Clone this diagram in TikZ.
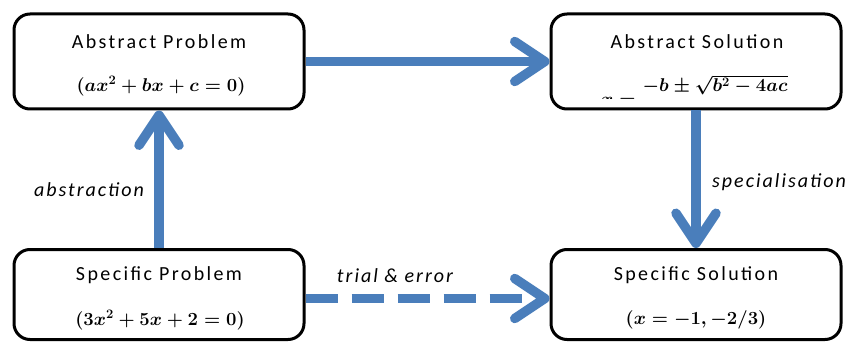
\documentclass[tikz,border=0pt]{standalone}
\usepackage{fix-cm}
\usepackage{fontspec}
\setmainfont{Carlito}
\usetikzlibrary{arrows.meta}
\definecolor{arrowblue}{RGB}{74,126,187}
\tikzset{
  box/.style={draw=black, line width=3pt, rounded corners=16pt, minimum width=290pt, inner sep=0pt},
  title/.style={font=\fontsize{20}{24}\selectfont\addfontfeatures{LetterSpace=12}, inner sep=0pt},
  formula/.style={font=\fontsize{18.5}{22}\selectfont\boldmath, inner sep=0pt},
  flow/.style={draw=arrowblue, line width=9.5pt, -{Straight Barb[length=30pt, width=40pt, round]}},
  dflow/.style={flow, dash pattern=on 32pt off 14pt},
  lab/.style={font=\fontsize{20}{24}\selectfont\itshape\addfontfeatures{LetterSpace=10}, inner sep=0pt},
}
\begin{document}
\begin{tikzpicture}[x=1pt,y=-1pt]
\useasboundingbox (0,0) rectangle (850,347);
% boxes
\node[box, minimum height=95pt] (ap) at (159,61.5) {};
\node[box, minimum height=95pt] (as) at (696,61.5) {};
\node[box, minimum height=90pt] (sp) at (159,294.5) {};
\node[box, minimum height=90pt] (ss) at (696,294.5) {};
% texts
\node[title] (apt) at (159,42) {Abstract Problem};
\node[formula] (apf) at (161,86) {$(ax^2+bx+c=0)$};
\node[title] (ast) at (697,42) {Abstract Solution};
\begin{scope}
  \clip (560,20) rectangle (840,99);
  \node[formula, anchor=north] (asf) at (695,75) {$\displaystyle x=\frac{-b\pm\sqrt{b^2-4ac}}{2a}$};
\end{scope}
\node[title] (spt) at (159,275) {Specific Problem};
\node[formula] (spf) at (160,320) {$(3x^2+5x+2=0)$};
\node[title] (sst) at (696,275) {Specific Solution};
\node[formula] (ssf) at (696,320) {$(x=-1,-2/3)$};
% connectors
\draw[flow] (ap.east) -- (as.west);
\draw[flow] (sp.north) -- (ap.south);
\draw[flow] (as.south) -- (ss.north);
\draw[dflow] ([yshift=-4pt]sp.east) -- ([yshift=-4pt]ss.west);
% labels
\node[lab] (la) at (89,190) {abstraction};
\node[lab] (ls) at (779,182) {specialisation};
\node[lab] (lt) at (395,276) {trial \& error};
\end{tikzpicture}
\end{document}
